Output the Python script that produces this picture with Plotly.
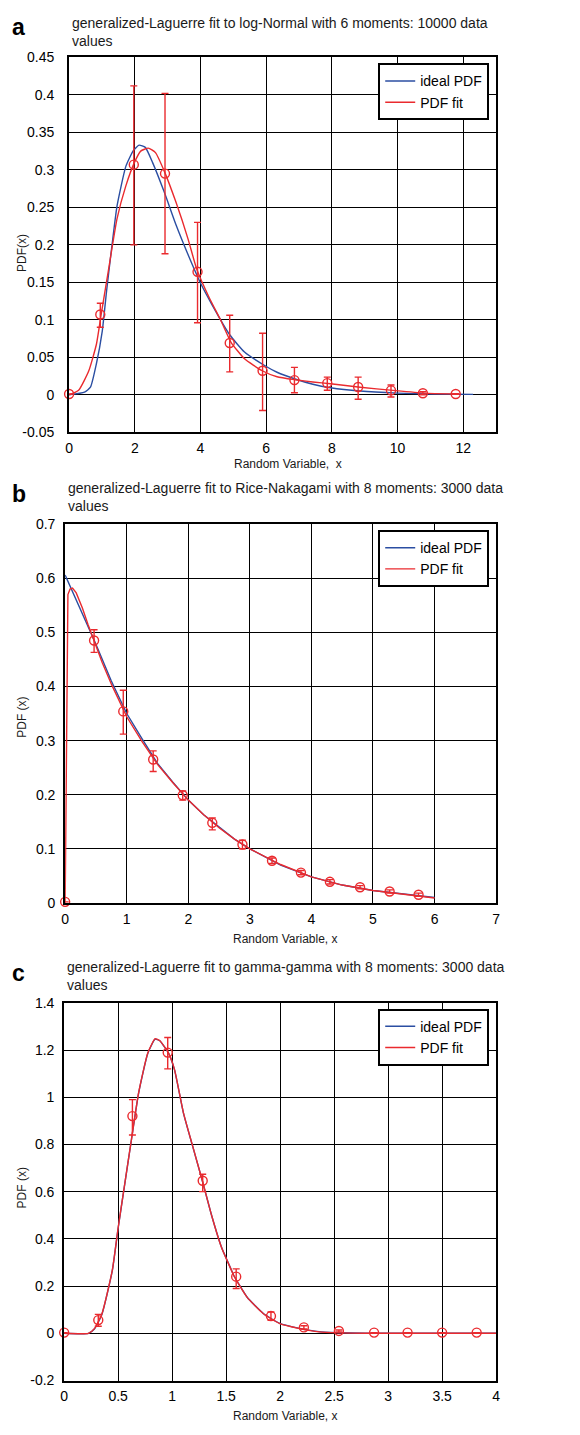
import plotly.graph_objects as go

W, H = 580, 1435

# ---------------- Panel a: log-Normal, 6 moments ----------------
a_ideal_x = [0, 0.47, 0.65, 0.83, 1.01, 1.14, 1.28, 1.46, 1.73, 1.96, 2.13, 2.32, 2.54, 2.9, 3.26, 3.62,
             4.0, 4.34, 4.89, 5.34, 5.99, 6.33, 6.88, 7.42, 7.96, 8.86, 10.0, 11.03, 12.3]
a_ideal_y = [0, 0.0035, 0.01, 0.041, 0.085, 0.138, 0.19, 0.252, 0.305, 0.326, 0.333, 0.33, 0.31, 0.27, 0.226,
             0.187, 0.149, 0.121, 0.08, 0.057, 0.038, 0.030, 0.021, 0.014, 0.0093, 0.0049, 0.0022, 0.0009, 0.0005]
a_fit_x = [0, 0.29, 0.6, 0.83, 0.98, 1.19, 1.46, 1.73, 1.98, 2.18, 2.41, 2.63, 2.9, 3.26, 3.62, 3.89,
           4.26, 4.62, 4.93, 5.34, 5.88, 6.33, 6.88, 7.42, 7.96, 8.86, 9.86, 10.8, 11.8]
a_fit_y = [0, 0.006, 0.032, 0.067, 0.108, 0.164, 0.235, 0.279, 0.309, 0.325, 0.329, 0.323, 0.298, 0.256,
           0.208, 0.167, 0.13, 0.099, 0.07, 0.048, 0.032, 0.024, 0.02, 0.017, 0.0146, 0.010, 0.0058, 0.0022, 0.001]
a_pts_x = [0, 0.95, 1.97, 2.92, 3.91, 4.89, 5.89, 6.86, 7.86, 8.80, 9.80, 10.77, 11.77]
a_pts_y = [0.001, 0.107, 0.307, 0.295, 0.164, 0.069, 0.032, 0.0195, 0.0155, 0.0103, 0.0058, 0.002, 0.001]
a_hi = [0.001, 0.122, 0.412, 0.402, 0.23, 0.106, 0.082, 0.0365, 0.0235, 0.0235, 0.0129, 0.004, 0.0015]
a_lo = [0.001, 0.09, 0.2, 0.188, 0.096, 0.0305, -0.021, 0.0026, 0.006, -0.0061, -0.003, 0.0, 0.0005]
a_xticks = [0, 2, 4, 6, 8, 10, 12]
a_xtext = ["0", "2", "4", "6", "8", "10", "12"]
a_yticks = [-0.05, 0, 0.05, 0.1, 0.15, 0.2, 0.25, 0.3, 0.35, 0.4, 0.45]
a_ytext = ["-0.05", "0", "0.05", "0.1", "0.15", "0.2", "0.25", "0.3", "0.35", "0.4", "0.45"]

# ---------------- Panel b: Rice-Nakagami, 8 moments ----------------
b_ideal_x = [0, 0.25, 0.5, 0.75, 1.0, 1.25, 1.5, 1.75, 2.0, 2.25, 2.5, 2.75, 3.0, 3.5, 4.0, 4.5, 5.0, 5.5, 6.0]
b_ideal_y = [0.606, 0.543, 0.478, 0.41, 0.35, 0.303, 0.258, 0.223, 0.19, 0.163, 0.14, 0.118, 0.1, 0.07,
             0.048, 0.033, 0.023, 0.016, 0.01]
b_fit_x = [0, 0.03, 0.045, 0.08, 0.12, 0.18, 0.28, 0.37, 0.47, 0.6, 0.76, 1.0, 1.25, 1.5, 1.75, 2.0, 2.25,
           2.5, 2.75, 3.0, 3.5, 4.0, 4.5, 5.0, 5.5, 6.0]
b_fit_y = [0.0, 0.3, 0.57, 0.58, 0.582, 0.573, 0.545, 0.515, 0.485, 0.445, 0.402, 0.344, 0.298, 0.256,
           0.222, 0.19, 0.163, 0.139, 0.118, 0.1, 0.071, 0.048, 0.033, 0.023, 0.016, 0.009]
b_pts_x = [0, 0.47, 0.944, 1.43, 1.91, 2.39, 2.88, 3.36, 3.83, 4.30, 4.79, 5.27, 5.74]
b_pts_y = [0.002, 0.485, 0.354, 0.265, 0.199, 0.148, 0.108, 0.078, 0.056, 0.039, 0.029, 0.021, 0.015]
b_hi = [0.002, 0.505, 0.393, 0.281, 0.207, 0.157, 0.116, 0.083, 0.06, 0.043, 0.032, 0.024, 0.018]
b_lo = [0.002, 0.463, 0.312, 0.243, 0.19, 0.135, 0.100, 0.073, 0.052, 0.035, 0.026, 0.018, 0.012]
b_xticks = [0, 1, 2, 3, 4, 5, 6, 7]
b_xtext = ["0", "1", "2", "3", "4", "5", "6", "7"]
b_yticks = [0, 0.1, 0.2, 0.3, 0.4, 0.5, 0.6, 0.7]
b_ytext = ["0", "0.1", "0.2", "0.3", "0.4", "0.5", "0.6", "0.7"]

# ---------------- Panel c: gamma-gamma, 8 moments ----------------
c_ideal_x = [0, 0.225, 0.28, 0.35, 0.445, 0.5, 0.555, 0.624, 0.69, 0.775, 0.843, 0.885, 0.967, 1.022,
             1.104, 1.187, 1.283, 1.365, 1.46, 1.544, 1.571, 1.693, 1.845, 1.997, 2.18, 2.36, 2.54, 2.79, 4.0]
c_ideal_y = [0, 0, 0.018, 0.081, 0.263, 0.445, 0.613, 0.823, 1.018, 1.186, 1.246, 1.239, 1.186, 1.116,
             0.934, 0.797, 0.64, 0.5, 0.361, 0.273, 0.245, 0.154, 0.084, 0.042, 0.021, 0.007, 0.003, 0.0, 0.0]
c_fit_x = [0, 0.225, 0.28, 0.35, 0.445, 0.5, 0.555, 0.624, 0.69, 0.775, 0.843, 0.885, 0.967, 1.022,
           1.104, 1.187, 1.283, 1.365, 1.46, 1.544, 1.571, 1.693, 1.845, 1.997, 2.18, 2.36, 2.54, 2.79, 4.0]
c_fit_y = [0, 0, 0.02, 0.083, 0.265, 0.447, 0.615, 0.824, 1.02, 1.188, 1.248, 1.24, 1.187, 1.117,
           0.935, 0.798, 0.641, 0.5, 0.36, 0.272, 0.244, 0.153, 0.083, 0.041, 0.02, 0.006, 0.002, 0.0, 0.0]
c_pts_x = [0, 0.316, 0.632, 0.959, 1.283, 1.593, 1.915, 2.22, 2.544, 2.87, 3.18, 3.5, 3.82]
c_pts_y = [0.003, 0.056, 0.92, 1.189, 0.646, 0.24, 0.073, 0.025, 0.01, 0.003, 0.003, 0.003, 0.003]
c_hi = [0.003, 0.08, 0.99, 1.253, 0.674, 0.273, 0.09, 0.032, 0.014, 0.003, 0.003, 0.003, 0.003]
c_lo = [0.003, 0.03, 0.84, 1.12, 0.6, 0.19, 0.055, 0.018, 0.006, 0.003, 0.003, 0.003, 0.003]
c_xticks = [0, 0.5, 1, 1.5, 2, 2.5, 3, 3.5, 4]
c_xtext = ["0", "0.5", "1", "1.5", "2", "2.5", "3", "3.5", "4"]
c_yticks = [-0.2, 0, 0.2, 0.4, 0.6, 0.8, 1.0, 1.2, 1.4]
c_ytext = ["-0.2", "0", "0.2", "0.4", "0.6", "0.8", "1", "1.2", "1.4"]

series_names = ["ideal PDF", "PDF fit"]
titles = ["generalized-Laguerre fit to log-Normal with 6 moments: 10000 data<br>values",
          "generalized-Laguerre fit to Rice-Nakagami with 8 moments: 3000 data<br>values",
          "generalized-Laguerre fit to gamma-gamma with 8 moments: 3000 data<br>values"]
panel_letters = ["a", "b", "c"]
ytitles = ["PDF(x)", "PDF (x)", "PDF (x)"]
xtitles = ["Random Variable,  x", "Random Variable, x", "Random Variable, x"]

BLUE = "#2b4ea2"
RED = "#ea2a2e"
FONT = "Liberation Sans, Arial, sans-serif"


def px(x):
    return x / W


def py(y):
    return 1 - y / H


# plot boxes in pixels: left, right, top, bottom
boxes = [(66, 499, 50, 429), (62, 499, 522, 905), (61, 499, 1006, 1388)]
xranges = [[0, 13], [0, 7], [0, 4]]
yranges = [[-0.05, 0.45], [0, 0.7], [-0.2, 1.4]]
xticks = [(a_xticks, a_xtext), (b_xticks, b_xtext), (c_xticks, c_xtext)]
yticks = [(a_yticks, a_ytext), (b_yticks, b_ytext), (c_yticks, c_ytext)]
ystand = [10, 5, 5]
title_y = [24, 495, 979]
letter_y = [19, 491, 976]
xtitle_y = [461, 942, 1424]
ytitle_y = [248, 717, 1193]
legend_top = [56, 528, 1012]
shapes_line = ["spline", "linear", "spline"]

panels = [
    (a_ideal_x, a_ideal_y, a_fit_x, a_fit_y, a_pts_x, a_pts_y, a_hi, a_lo),
    (b_ideal_x, b_ideal_y, b_fit_x, b_fit_y, b_pts_x, b_pts_y, b_hi, b_lo),
    (c_ideal_x, c_ideal_y, c_fit_x, c_fit_y, c_pts_x, c_pts_y, c_hi, c_lo),
]

fig = go.Figure()
annotations = []
layout = {}
for i, (ix, iy, fx, fy, ptx, pty, hi, lo) in enumerate(panels):
    n = "" if i == 0 else str(i + 1)
    xa, ya = "x" + n, "y" + n
    lg = "legend" + n
    fig.add_trace(go.Scatter(x=ix, y=iy, mode="lines", name=series_names[0], xaxis=xa, yaxis=ya,
                             line=dict(color=BLUE, width=1.4, shape=shapes_line[i], smoothing=0.5),
                             legend=lg))
    fig.add_trace(go.Scatter(x=fx, y=fy, mode="lines", name=series_names[1], xaxis=xa, yaxis=ya,
                             line=dict(color=RED, width=1.4, shape=shapes_line[i], smoothing=0.5),
                             legend=lg))
    plus = [h - v for h, v in zip(hi, pty)]
    minus = [v - l for v, l in zip(pty, lo)]
    fig.add_trace(go.Scatter(x=ptx, y=pty, mode="markers", showlegend=False, xaxis=xa, yaxis=ya,
                             marker=dict(symbol="circle-open", size=9, color=RED, line=dict(width=1.4)),
                             error_y=dict(type="data", symmetric=False, array=plus, arrayminus=minus,
                                          color=RED, thickness=1.4, width=3.5),
                             cliponaxis=False))
    l, r, t, b = boxes[i]
    common = dict(showline=True, mirror=True, linecolor="black", linewidth=2,
                  showgrid=True, gridcolor="black", gridwidth=1.2, zeroline=False,
                  ticks="", tickfont=dict(family=FONT, size=14, color="black"), fixedrange=True)
    layout["xaxis" + n] = dict(domain=[px(l), px(r)], range=xranges[i], anchor=ya,
                               tickmode="array", tickvals=xticks[i][0], ticktext=xticks[i][1],
                               ticklabelstandoff=2, **common)
    layout["yaxis" + n] = dict(domain=[py(b), py(t)], range=yranges[i], anchor=xa,
                               tickmode="array", tickvals=yticks[i][0], ticktext=yticks[i][1],
                               ticklabelstandoff=ystand[i], **common)
    layout[lg] = dict(x=px(492), y=py(legend_top[i]), xanchor="right", yanchor="top",
                      bgcolor="white", bordercolor="black", borderwidth=2,
                      font=dict(family=FONT, size=14, color="black"), tracegroupgap=0,
                      itemwidth=30)
    annotations.append(dict(text=titles[i], x=px(l + 1), y=py(title_y[i]), xref="paper", yref="paper",
                            xanchor="left", yanchor="middle", align="left", showarrow=False,
                            font=dict(family=FONT, size=14, color="#1a1a1a")))
    annotations.append(dict(text="<b>" + panel_letters[i] + "</b>", x=px(15), y=py(letter_y[i]),
                            xref="paper", yref="paper", xanchor="center", yanchor="middle",
                            showarrow=False, font=dict(family=FONT, size=23, color="black")))
    annotations.append(dict(text=xtitles[i], x=px((l + r) / 2 + 5), y=py(xtitle_y[i]), xref="paper",
                            yref="paper", xanchor="center", yanchor="middle", showarrow=False,
                            font=dict(family=FONT, size=12, color="#1a1a1a")))
    annotations.append(dict(text=ytitles[i], x=px(18), y=py(ytitle_y[i]), xref="paper", yref="paper",
                            xanchor="center", yanchor="middle", textangle=-90, showarrow=False,
                            font=dict(family=FONT, size=12, color="#1a1a1a")))

fig.update_layout(width=W, height=H, margin=dict(l=0, r=0, t=0, b=0), plot_bgcolor="white",
                  paper_bgcolor="white", annotations=annotations, hovermode=False,
                  font=dict(family=FONT), **layout)
fig.write_html("out.html", config={"displayModeBar": False},
               post_script="document.body.style.margin='0';document.body.style.overflow='hidden';")
